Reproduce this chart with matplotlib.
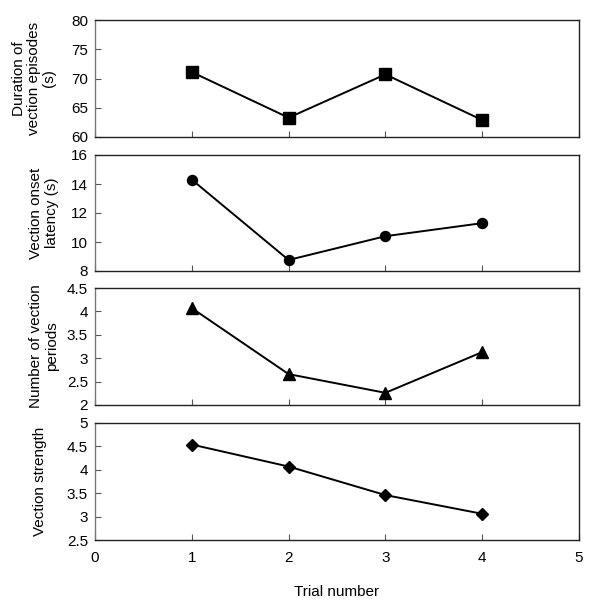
import matplotlib
matplotlib.use("Agg")
import matplotlib.pyplot as plt

plt.rcParams['font.family'] = ['Liberation Sans', 'DejaVu Sans']

trials = [1, 2, 3, 4]
duration = [71.1, 63.3, 70.7, 62.9]
latency = [14.3, 8.76, 10.4, 11.3]
periods = [4.07, 2.66, 2.26, 3.13]
strength = [4.54, 4.07, 3.46, 3.06]

series = [duration, latency, periods, strength]
markers = ['s', 'o', '^', 'D']
msizes = [8.0, 7.2, 8.0, 6.0]
ylims = [(60, 80), (8, 16), (2, 4.5), (2.5, 5)]
yticks = [[60, 65, 70, 75, 80], [8, 10, 12, 14, 16],
          [2, 2.5, 3, 3.5, 4, 4.5], [2.5, 3, 3.5, 4, 4.5, 5]]
ylabels = ["Duration of\nvection episodes\n(s)", "Vection onset\nlatency (s)",
           "Number of vection\nperiods", "Vection strength"]
xticks = [0, 1, 2, 3, 4, 5]

W, H = 600, 605
fig = plt.figure(figsize=(W / 100, H / 100), dpi=100)

panels_px = [(20, 137), (155, 271), (288, 405), (423, 540)]
label_x_px = [34, 44, 44, 40]
left_px, right_px = 95, 579

for i, (top, bot) in enumerate(panels_px):
    ax = fig.add_axes([left_px / W, 1 - bot / H, (right_px - left_px) / W, (bot - top) / H])
    ax.plot(trials, series[i], color='black', lw=1.4, marker=markers[i],
            markersize=msizes[i], markerfacecolor='black', markeredgecolor='black')
    ax.set_xlim(0, 5)
    ax.set_ylim(*ylims[i])
    ax.set_yticks(yticks[i])
    ax.set_yticklabels([f"{v:g}" for v in yticks[i]])
    ax.set_xticks(xticks)
    ax.tick_params(axis='both', direction='in', length=4, width=0.8, colors='#555555',
                   labelcolor='black', labelsize=11)
    ax.tick_params(axis='y', pad=5)
    ax.tick_params(axis='x', pad=8)
    for s in ax.spines.values():
        s.set_linewidth(1.0)
        s.set_color('#222222')
    ax.spines['left'].set_color('#777777')
    if i < 3:
        ax.tick_params(axis='x', labelbottom=False)
    fig.text(label_x_px[i] / W, 1 - ((top + bot) / 2) / H, ylabels[i], rotation=90,
             ha='center', va='center', multialignment='center', fontsize=11,
             linespacing=1.1)

fig.text((left_px + right_px) / 2 / W, 1 - 592 / H, "Trial number", ha='center',
         va='center', fontsize=11)

fig.savefig("out.png", dpi=100)
